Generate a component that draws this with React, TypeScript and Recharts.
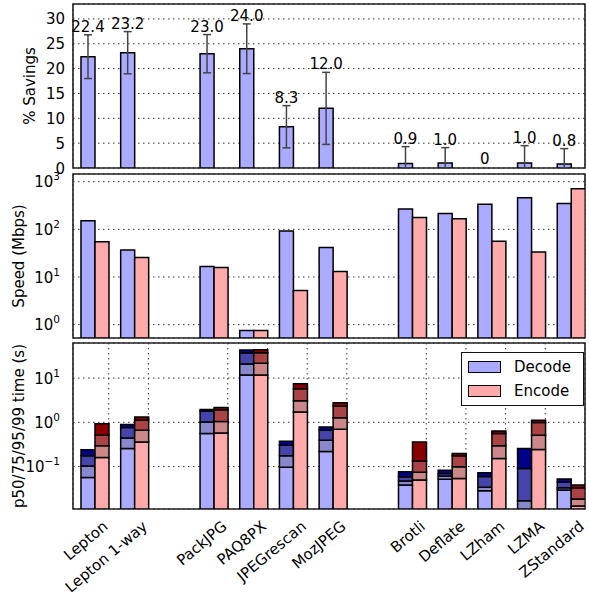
import React from 'react';
import { BarChart, Bar, XAxis, YAxis, CartesianGrid, ErrorBar, LabelList, ReferenceArea } from 'recharts';

const categories = ['Lepton', 'Lepton 1-way', 'PackJPG', 'PAQ8PX', 'JPEGrescan', 'MozJPEG', 'Brotli', 'Deflate', 'LZham', 'LZMA', 'ZStandard'];
// slot of each codec on the x axis (empty slots at 2 and 7 separate the groups)
const slots = [0, 1, 3, 4, 5, 6, 8, 9, 10, 11, 12];

const savings = [22.4, 23.2, 23.0, 24.0, 8.3, 12.0, 0.9, 1.0, 0, 1.0, 0.8];
const savingsErr = [4.4, 4.25, 3.85, 5.0, 4.25, 7.25, 3.4, 3.1, 0, 3.5, 3.1];

const decodeSpeed = [151, 37, 16.7, 0.75, 92, 41.7, 267, 215, 338, 458, 348];
const encodeSpeed = [55, 25.7, 15.9, 0.75, 5.2, 13.1, 177, 167, 56, 33.4, 708];

const decodeP50 = [0.057, 0.256, 0.556, 11.8, 0.096, 0.22, 0.0385, 0.0515, 0.0286, 0.011, 0.0296];
const decodeP75 = [0.103, 0.44, 1.02, 20.8, 0.175, 0.394, 0.047, 0.061, 0.034, 0.0169, 0.0334];
const decodeP95 = [0.175, 0.76, 1.77, 36.8, 0.304, 0.66, 0.059, 0.07, 0.06, 0.091, 0.0448];
const decodeP99 = [0.239, 0.89, 1.96, 43, 0.374, 0.785, 0.0765, 0.083, 0.0726, 0.256, 0.0524];

const encodeP50 = [0.16, 0.36, 0.575, 11.7, 1.7, 0.7, 0.05, 0.054, 0.153, 0.243, 0.0129];
const encodeP75 = [0.294, 0.66, 1.05, 21.5, 3.07, 1.27, 0.0741, 0.099, 0.294, 0.51, 0.0186];
const encodeP95 = [0.51, 1.13, 1.93, 37.5, 5.7, 2.33, 0.133, 0.175, 0.557, 0.99, 0.0334];
const encodeP99 = [0.93, 1.32, 2.17, 43.5, 7.4, 2.77, 0.361, 0.198, 0.638, 1.11, 0.0384];

const seriesNames = ['Decode', 'Encode'];
const savingsTicks = [0, 5, 10, 15, 20, 25, 30];
const speedTicks = [1, 10, 100, 1000];
const timeTicks = [0.1, 1, 10];

const FONT = 'DejaVu Sans';
const FRAME = '#222';
const DEC = ['#aaaaff', '#8888cc', '#4444aa', '#000088'];
const ENC = ['#ffaaaa', '#cc8888', '#aa4444', '#880000'];
const W = 589;
const BAR = 14;

const X_DOMAIN: [number, number] = [-0.2, 12.7];
const SAV_DOMAIN: [number, number] = [0, 33];
const SPEED_DOMAIN: [number, number] = [0.525, 1450];
const TIME_DOMAIN: [number, number] = [0.011, 62];

// pair of bars centred at slot + 0.35; tick (grid line and name) at the right edge of the pair
const xTicks = slots.map((s) => s + 0.7);

const rows = categories.map((name, i) => ({
  name,
  x: slots[i] + 0.35,
  sav: savings[i],
  savErr: [Math.min(savingsErr[i], savings[i]), savingsErr[i]],
  savTop: savings[i] + savingsErr[i],
  savText: savings[i] === 0 ? '0' : savings[i].toFixed(1),
  dec: decodeSpeed[i],
  enc: encodeSpeed[i],
  d0: decodeP50[i],
  d1: decodeP75[i] - decodeP50[i],
  d2: decodeP95[i] - decodeP75[i],
  d3: decodeP99[i] - decodeP95[i],
  e0: encodeP50[i],
  e1: encodeP75[i] - encodeP50[i],
  e2: encodeP95[i] - encodeP75[i],
  e3: encodeP99[i] - encodeP95[i],
}));

function logMinorTicks([lo, hi]: [number, number]) {
  const out: number[] = [];
  for (let e = Math.floor(Math.log10(lo)); e <= Math.ceil(Math.log10(hi)); e++) {
    for (let k = 2; k <= 9; k++) {
      const v = k * Math.pow(10, e);
      if (v > lo && v < hi) out.push(v);
    }
  }
  return out;
}

const LinTick = (props: any) => {
  const { x, y, payload } = props;
  return (
    <text x={x} y={y} dy={5.5} textAnchor="end" fontSize={15} fontFamily={FONT} fill="#000">
      {payload.value}
    </text>
  );
};

const PowTick = (props: any) => {
  const { x, y, payload } = props;
  const e = Math.round(Math.log10(payload.value));
  return (
    <text x={x} y={y} dy={5.5} textAnchor="end" fontSize={15} fontFamily={FONT} fill="#000">
      <tspan>10</tspan>
      <tspan dy={-7} fontSize={10.5}>{e < 0 ? `\u2212${-e}` : `${e}`}</tspan>
    </text>
  );
};

const CatTick = (props: any) => {
  const { x, y, payload } = props;
  let i = xTicks.indexOf(payload.value);
  if (i < 0) i = props.index;
  return (
    <g transform={`translate(${x},${y + 19}) rotate(-40)`}>
      <text x={0} y={0} textAnchor="end" fontSize={15} fontFamily={FONT} fill="#000">
        {categories[i]}
      </text>
    </g>
  );
};

const yTitle = (text: string, bx: number) => (props: any) => {
  const vb = props.viewBox || {};
  const tx = (vb.x || 0) + bx;
  const ty = (vb.y || 0) + (vb.height || 0) / 2;
  return (
    <text x={tx} y={ty} textAnchor="middle" fontSize={15} fontFamily={FONT} fill="#000"
      transform={`rotate(-90 ${tx} ${ty})`}>
      {text}
    </text>
  );
};

const SavLabel = (props: any) => {
  const vb = props.viewBox || props;
  const { x, y, width } = vb;
  return (
    <text x={x - width / 2} y={y - 3} textAnchor="middle" fontSize={15} fontFamily={FONT} fill="#000">
      {props.value}
    </text>
  );
};

// inward tick marks on both sides, like matplotlib's classic style
function sideTicks(majors: number[], minors: number[] | null, domain: [number, number], scale: 'linear' | 'log') {
  const common = {
    type: 'number' as const, domain, scale, allowDataOverflow: true, mirror: true,
    width: 1, tick: false, axisLine: false, interval: 0 as const,
  };
  const out = [
    <YAxis key="lt" yAxisId="lt" orientation="left" ticks={majors} tickSize={6} tickLine={{ stroke: FRAME }} {...common} />,
    <YAxis key="rt" yAxisId="rt" orientation="right" ticks={majors} tickSize={6} tickLine={{ stroke: FRAME }} {...common} />,
  ];
  if (minors) {
    out.push(<YAxis key="lm" yAxisId="lm" orientation="left" ticks={minors} tickSize={3} tickLine={{ stroke: FRAME }} {...common} />);
    out.push(<YAxis key="rm" yAxisId="rm" orientation="right" ticks={minors} tickSize={3} tickLine={{ stroke: FRAME }} {...common} />);
  }
  return out;
}

const gridProps = {
  xAxisId: 'b', yAxisId: 'v', stroke: '#333', strokeDasharray: '1.5 3.5',
};

const frame = (
  <ReferenceArea xAxisId="b" yAxisId="v" x1={X_DOMAIN[0]} x2={X_DOMAIN[1]} fill="none"
    stroke={FRAME} strokeWidth={1.6} ifOverflow="visible" />
);

const catAxis = (withNames: boolean) => (
  <XAxis xAxisId="b" dataKey="x" type="number" domain={X_DOMAIN} allowDataOverflow ticks={xTicks}
    interval={0} height={withNames ? 89 : 1} tickSize={0} tickMargin={0}
    tick={withNames ? CatTick : false} tickLine={false} axisLine={false} />
);

function SavingsPanel() {
  return (
    <BarChart width={W} height={178} data={rows} margin={{ top: 4, right: 4, bottom: 9, left: 0 }}
      barGap={0} style={{ fontFamily: FONT }}>
      {catAxis(false)}
      <YAxis yAxisId="v" type="number" domain={SAV_DOMAIN} allowDataOverflow ticks={savingsTicks} interval={0}
        width={73} tickSize={0} tickMargin={8} tick={LinTick} tickLine={false} axisLine={false}
        label={yTitle('% Savings', 35)} />
      {sideTicks(savingsTicks, null, SAV_DOMAIN, 'linear')}
      <CartesianGrid {...gridProps} />
      <Bar xAxisId="b" yAxisId="v" dataKey="sav" barSize={BAR} fill={DEC[0]} stroke="#000" strokeWidth={1.5}
        isAnimationActive={false}>
        <ErrorBar dataKey="savErr" width={4} stroke="#444" strokeWidth={1.5} direction="y" />
      </Bar>
      <Bar xAxisId="b" yAxisId="v" dataKey="savTop" barSize={BAR} fill="none" stroke="none" minPointSize={1}
        isAnimationActive={false}>
        <LabelList dataKey="savText" content={SavLabel} />
      </Bar>
      {frame}
    </BarChart>
  );
}

function SpeedPanel() {
  return (
    <BarChart width={W} height={172} data={rows} margin={{ top: 4, right: 4, bottom: 3, left: 0 }}
      barGap={0} style={{ fontFamily: FONT }}>
      {catAxis(false)}
      <YAxis yAxisId="v" type="number" scale="log" domain={SPEED_DOMAIN} allowDataOverflow ticks={speedTicks}
        interval={0} width={73} tickSize={0} tickMargin={13} tick={PowTick} tickLine={false} axisLine={false}
        label={yTitle('Speed (Mbps)', 24)} />
      {sideTicks(speedTicks, logMinorTicks(SPEED_DOMAIN), SPEED_DOMAIN, 'log')}
      <CartesianGrid {...gridProps} />
      <Bar xAxisId="b" yAxisId="v" dataKey="dec" name={seriesNames[0]} barSize={BAR} fill={DEC[0]}
        stroke="#000" strokeWidth={1.5} isAnimationActive={false} />
      <Bar xAxisId="b" yAxisId="v" dataKey="enc" name={seriesNames[1]} barSize={BAR} fill={ENC[0]}
        stroke="#000" strokeWidth={1.5} isAnimationActive={false} />
      {frame}
    </BarChart>
  );
}

function TimePanel() {
  const dKeys = ['d0', 'd1', 'd2', 'd3'];
  const eKeys = ['e0', 'e1', 'e2', 'e3'];
  return (
    <BarChart width={W} height={263} data={rows} margin={{ top: 8, right: 4, bottom: 0, left: 0 }}
      barGap={0} style={{ fontFamily: FONT }}>
      {catAxis(true)}
      <YAxis yAxisId="v" type="number" scale="log" domain={TIME_DOMAIN} allowDataOverflow ticks={timeTicks}
        interval={0} width={73} tickSize={0} tickMargin={13} tick={PowTick} tickLine={false} axisLine={false}
        label={yTitle('p50/75/95/99 time (s)', 24)} />
      {sideTicks(timeTicks, logMinorTicks(TIME_DOMAIN), TIME_DOMAIN, 'log')}
      <CartesianGrid {...gridProps} />
      {dKeys.map((k, j) => (
        <Bar key={k} xAxisId="b" yAxisId="v" dataKey={k} stackId="dec" barSize={BAR} fill={DEC[j]}
          stroke="#000" strokeWidth={1.5} isAnimationActive={false} />
      ))}
      {eKeys.map((k, j) => (
        <Bar key={k} xAxisId="b" yAxisId="v" dataKey={k} stackId="enc" barSize={BAR} fill={ENC[j]}
          stroke="#000" strokeWidth={1.5} isAnimationActive={false} />
      ))}
      {frame}
    </BarChart>
  );
}

function TimeLegend() {
  const colors = [DEC[0], ENC[0]];
  return (
    <div style={{
      position: 'absolute', left: 461, top: 352, width: 123, height: 54, boxSizing: 'border-box',
      border: '1.5px solid #111', background: '#fff', fontFamily: FONT, fontSize: 15,
    }}>
      {seriesNames.map((n, i) => (
        <div key={n} style={{ position: 'absolute', left: 6, top: 6 + i * 24, height: 16, display: 'flex', alignItems: 'center' }}>
          <span style={{ width: 33, height: 12, background: colors[i], border: '1.5px solid #000', boxSizing: 'border-box' }} />
          <span style={{ marginLeft: 13 }}>{n}</span>
        </div>
      ))}
    </div>
  );
}

export default function App() {
  return (
    <div style={{ position: 'absolute', left: 0, top: 0, width: W, height: 598, background: '#fff', overflow: 'hidden' }}>
      <div style={{ position: 'absolute', left: 0, top: 0 }}><SavingsPanel /></div>
      <div style={{ position: 'absolute', left: 0, top: 170 }}><SpeedPanel /></div>
      <div style={{ position: 'absolute', left: 0, top: 335 }}><TimePanel /></div>
      <TimeLegend />
    </div>
  );
}
